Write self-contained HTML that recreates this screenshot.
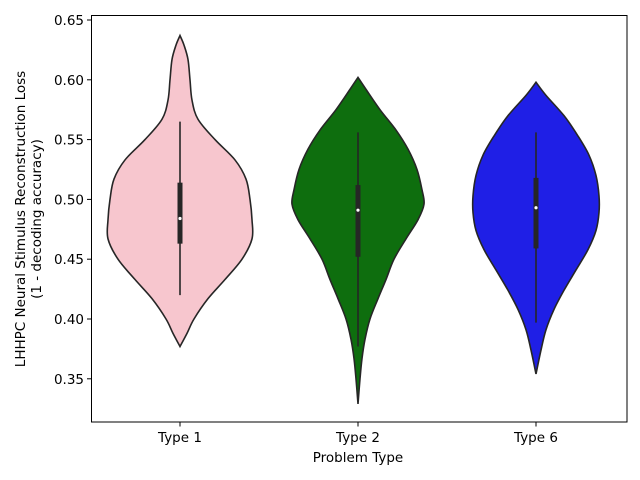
<!DOCTYPE html>
<html><head><meta charset="utf-8"><style>
body{margin:0;background:#fff}
svg{display:block;font-family:"DejaVu Sans","Liberation Sans",sans-serif}
</style></head><body>
<svg id="chart" width="640" height="480" viewBox="0 0 640 480">
<rect x="0" y="0" width="640" height="480" fill="#fff"/>
<g id="plot"></g>
<rect x="91.5" y="15.5" width="535.5" height="406.5" fill="none" stroke="#000" stroke-width="1"/>
<g id="yaxis"></g>
<g id="xaxis"></g>
<text x="358" y="462" font-size="13.5" text-anchor="middle">Problem Type</text>
<text transform="translate(25,219) rotate(-90)" font-size="13.5" text-anchor="middle">LHHPC Neural Stimulus Reconstruction Loss</text>
<text transform="translate(41,219) rotate(-90)" font-size="13.5" text-anchor="middle">(1 - decoding accuracy)</text>
</svg>
<script>
const categories = ["Type 1", "Type 2", "Type 6"];
const colors = ["#f7c6ce", "#0e6e0e", "#1f1fe6"];
const yTicks = [0.35, 0.40, 0.45, 0.50, 0.55, 0.60, 0.65];
const yTickLabels = ["0.35", "0.40", "0.45", "0.50", "0.55", "0.60", "0.65"];
const t1Vals = [0.637,0.629,0.617,0.600,0.583,0.567,0.550,0.533,0.517,0.500,0.483,0.467,0.450,0.433,0.417,0.400,0.388,0.377];
const t1Dens = [0,4,8,10,12,18,35,55,66,70,72,72,62,45,28,14,7,0];
const t2Vals = [0.602,0.592,0.575,0.558,0.542,0.525,0.508,0.496,0.483,0.467,0.450,0.433,0.417,0.400,0.383,0.367,0.350,0.329];
const t2Dens = [0,8,22,38,50,59,64,66,60,48,36,28,20,12,7,4,2,0];
const t6Vals = [0.598,0.587,0.570,0.553,0.537,0.520,0.503,0.489,0.474,0.458,0.441,0.424,0.408,0.391,0.374,0.354];
const t6Dens = [0,10,28,42,53,60,63,63,60,52,40,28,18,10,5,0];
const whiskerLow = [0.420, 0.377, 0.397];
const whiskerHigh = [0.565, 0.556, 0.556];
const q1 = [0.463, 0.452, 0.459];
const q3 = [0.514, 0.512, 0.518];
const medians = [0.484, 0.491, 0.493];

const NS="http://www.w3.org/2000/svg";
const yScale = v => 20 + (0.65 - v) / 0.05 * 59.8;
const xScale = i => 180 + i * 178;
const wScale = d => d;
const plot = document.getElementById('plot');
function mk(tag, attrs, parent){const e=document.createElementNS(NS,tag);for(const k in attrs)e.setAttribute(k,attrs[k]);parent.appendChild(e);return e;}
function smooth(pts){
  let d=`M${pts[0][0]},${pts[0][1]}`;
  for(let i=0;i<pts.length-1;i++){
    const p0=pts[Math.max(0,i-1)],p1=pts[i],p2=pts[i+1],p3=pts[Math.min(pts.length-1,i+2)];
    const c1=[p1[0]+(p2[0]-p0[0])/6,p1[1]+(p2[1]-p0[1])/6];
    const c2=[p2[0]-(p3[0]-p1[0])/6,p2[1]-(p3[1]-p1[1])/6];
    d+=`C${c1[0]},${c1[1]} ${c2[0]},${c2[1]} ${p2[0]},${p2[1]}`;
  }
  return d;
}
const profiles=[[t1Vals,t1Dens],[t2Vals,t2Dens],[t6Vals,t6Dens]];
profiles.forEach(([vals,dens],i)=>{
  const cx=xScale(i);
  const right=vals.map((v,j)=>[cx+wScale(dens[j]),yScale(v)]);
  const left=vals.map((v,j)=>[cx-wScale(dens[j]),yScale(v)]).reverse();
  const d=smooth(right)+smooth(left).replace(/^M/,'L')+'Z';
  const p=mk('path',{d:d,fill:colors[i],stroke:'#262626','stroke-width':1.6},plot);
  
  
  const w=mk('line',{x1:cx,x2:cx,y1:yScale(whiskerLow[i]),y2:yScale(whiskerHigh[i]),stroke:'#262626','stroke-width':1.6},plot);
  
  
  const b=mk('rect',{x:cx-2.5,y:yScale(q3[i]),width:5,height:yScale(q1[i])-yScale(q3[i]),fill:'#262626'},plot);
  
  
  const m=mk('circle',{cx:cx,cy:yScale(medians[i]),r:1.6,fill:'#fff'},plot);
  
  
});
const ya=document.getElementById('yaxis');
yTicks.forEach((v,i)=>{
  const y=yScale(v);
  const t=mk('line',{x1:87,x2:91.5,y1:y,y2:y,stroke:'#000'},ya);
  
  
  const l=mk('text',{x:84,y:y+5,'font-size':13.5,'text-anchor':'end'},ya);
  l.textContent=yTickLabels[i];
  
  
});
const xa=document.getElementById('xaxis');
categories.forEach((c,i)=>{
  const x=xScale(i);
  const t=mk('line',{x1:x,x2:x,y1:422,y2:426.5,stroke:'#000'},xa);
  
  
  const l=mk('text',{x:x,y:442,'font-size':13.5,'text-anchor':'middle'},xa);
  l.textContent=c;
  
  
});
</script>
</body></html>
